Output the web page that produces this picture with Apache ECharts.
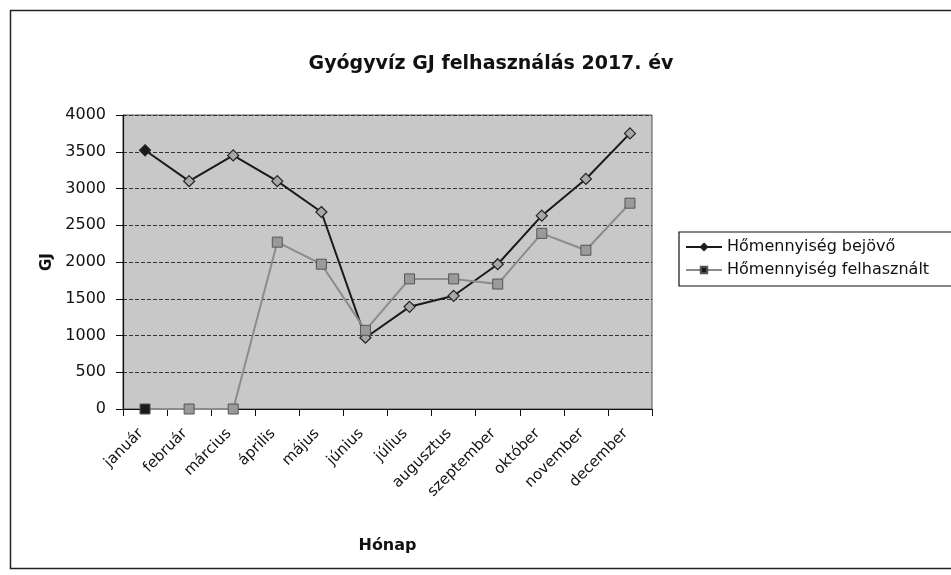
<!DOCTYPE html>
<html><head><meta charset="utf-8">
<script src="https://cdn.jsdelivr.net/npm/echarts@6/dist/echarts.min.js"></script>
<style>html,body{margin:0;padding:0;background:#fff}#c{width:951px;height:575px}</style>
</head><body><div id="c"></div>
<script>
const months = ['január','február','március','április','május','június','július','augusztus','szeptember','október','november','december'];
const bejovo = [3520, 3100, 3450, 3100, 2680, 970, 1390, 1540, 1970, 2630, 3130, 3750];
const felhasznalt = [0, 0, 0, 2270, 1970, 1070, 1770, 1770, 1700, 2390, 2160, 2800];
const yTicks = [0, 500, 1000, 1500, 2000, 2500, 3000, 3500, 4000];

const chart = echarts.init(document.getElementById('c'));
const font = 'DejaVu Sans, Liberation Sans, Arial, sans-serif';
const mk = (arr, light) => arr.map((v, i) => i === 0 ? v : {value: v, itemStyle: {color: light}});
chart.setOption({
  animation: false,
  graphic: [{type:'polyline', shape:{points:[[960,10.5],[10.5,10.5],[10.5,568.5],[960,568.5]]},
    style:{fill:'none', stroke:'#222', lineWidth:1.5}, z:-1}],
  title: {text:'Gyógyvíz GJ felhasználás 2017. év', left:486, top:50, textAlign:'center',
    textStyle:{fontFamily:font, fontSize:19, fontWeight:'bold', color:'#111'}},
  legend: {left:679, top:232, orient:'vertical', itemGap:7, itemWidth:36, itemHeight:8,
    padding:[7,40,8,6], borderColor:'#111', borderWidth:1.2, borderRadius:0,
    textStyle:{fontFamily:font, fontSize:16, color:'#111'}},
  grid: {left:123, right:299, top:115, bottom:166, show:true, backgroundColor:'#c8c8c8', borderColor:'#555', borderWidth:1},
  xAxis: {type:'category', data:months, boundaryGap:true,
    name:'Hónap', nameLocation:'middle', nameGap:129,
    nameTextStyle:{fontFamily:font, fontSize:16, fontWeight:'bold', color:'#111'},
    axisLine:{lineStyle:{color:'#111', width:1.2}},
    axisTick:{show:true, length:7, lineStyle:{color:'#111'}},
    axisLabel:{rotate:45, fontFamily:font, fontSize:15, color:'#111', margin:18, padding:[0,6,0,0]}},
  yAxis: {type:'value', min:0, max:4000, interval:500,
    name:'GJ', nameLocation:'middle', nameGap:60, nameRotate:90,
    nameTextStyle:{fontFamily:font, fontSize:15, fontWeight:'bold', color:'#111'},
    axisLine:{show:true, lineStyle:{color:'#111', width:1.2}},
    axisTick:{show:true, length:7, lineStyle:{color:'#111'}},
    axisLabel:{fontFamily:font, fontSize:16, color:'#111', margin:17,
      formatter: v => yTicks.includes(v) ? String(v) : ''},
    splitLine:{show:true, lineStyle:{color:'#333', type:'dashed', width:1}}},
  series: [
    {name:'Hőmennyiség bejövő', type:'line', data:mk(bejovo, '#a8a8a8'), symbol:'diamond', symbolSize:11,
      lineStyle:{color:'#1a1a1a', width:2}, itemStyle:{color:'#1a1a1a', borderColor:'#222', borderWidth:1.2}},
    {name:'Hőmennyiség felhasznált', type:'line', data:mk(felhasznalt, '#9a9a9a'), symbol:'rect', symbolSize:10,
      lineStyle:{color:'#8c8c8c', width:2}, itemStyle:{color:'#1a1a1a', borderColor:'#555', borderWidth:1}}
  ]
});
</script></body></html>
